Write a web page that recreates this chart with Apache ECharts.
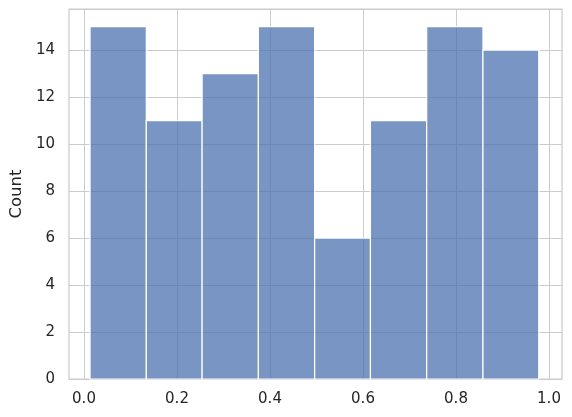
<!DOCTYPE html>
<html><head><meta charset="utf-8">
<script src="https://cdn.jsdelivr.net/npm/echarts@6/dist/echarts.min.js"></script>
<style>html,body{margin:0;padding:0;background:#fff}#c{width:572px;height:417px}</style>
</head><body><div id="c"></div>
<script>
const binEdges = [0.013, 0.134, 0.254, 0.375, 0.496, 0.616, 0.737, 0.858, 0.978];
const counts = [15, 11, 13, 15, 6, 11, 15, 14];
const xTicks = [0, 0.2, 0.4, 0.6, 0.8, 1.0];
const yLabel = 'Count';

const bars = counts.map((c, i) => [binEdges[i], binEdges[i + 1], c]);
const font = 'DejaVu Sans';
const chart = echarts.init(document.getElementById('c'), null, {renderer: 'canvas'});
chart.setOption({
  animation: false,
  backgroundColor: '#ffffff',
  grid: [
    {left: 66, right: 10, top: 9, bottom: 38, show: true, borderColor: '#cccccc', borderWidth: 1.25, backgroundColor: 'transparent'},
    {left: 84, right: 23, top: 9, bottom: 38}
  ],
  xAxis: [
    {gridIndex: 0, type: 'value', min: 0, max: 1, show: false},
    {gridIndex: 1, type: 'value', min: 0, max: 1, interval: 0.2,
      axisLine: {show: false}, axisTick: {show: false},
      splitLine: {show: true, lineStyle: {color: '#cccccc', width: 1}},
      axisLabel: {fontFamily: font, fontSize: 15, color: '#262626', margin: 13,
        formatter: v => v.toFixed(1)}}
  ],
  yAxis: [
    {gridIndex: 0, type: 'value', min: 0, max: 15.75, interval: 2,
      axisLine: {show: false}, axisTick: {show: false},
      splitLine: {show: true, lineStyle: {color: '#cccccc', width: 1}},
      axisLabel: {fontFamily: font, fontSize: 15, color: '#262626', margin: 14,
        formatter: v => (v > 15 ? '' : String(v))},
      name: yLabel, nameLocation: 'middle', nameGap: 38, nameRotate: 90,
      nameTextStyle: {fontFamily: font, fontSize: 16.5, color: '#262626'}},
    {gridIndex: 1, type: 'value', min: 0, max: 15.75, show: false}
  ],
  series: [{
    type: 'custom',
    xAxisIndex: 1, yAxisIndex: 1,
    clip: false,
    z: 5,
    data: bars,
    renderItem: function (params, api) {
      const p0 = api.coord([api.value(0), 0]);
      const p1 = api.coord([api.value(1), api.value(2)]);
      return {
        type: 'rect',
        shape: {x: p0[0], y: p1[1], width: p1[0] - p0[0], height: p0[1] - p1[1]},
        style: {fill: 'rgba(76,114,176,0.75)', stroke: '#ffffff', lineWidth: 1.2}
      };
    }
  }]
});
</script></body></html>
